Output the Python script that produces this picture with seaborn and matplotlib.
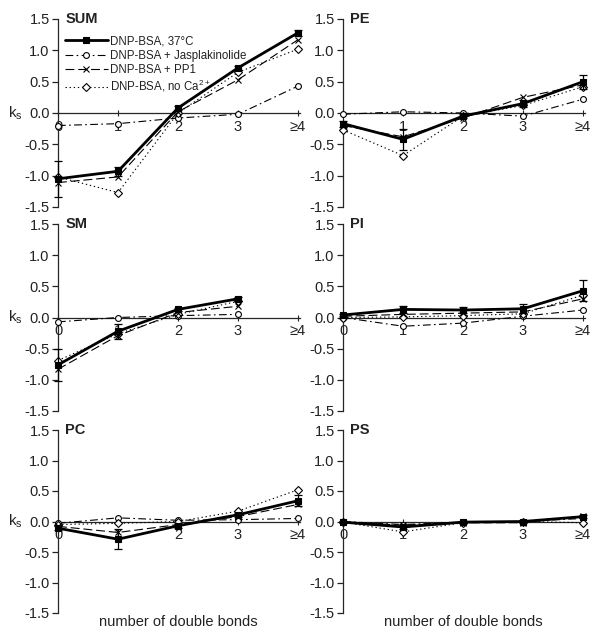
import numpy as np
import pandas as pd
import matplotlib
matplotlib.use("Agg")
import matplotlib.pyplot as plt
import matplotlib.transforms as mtransforms
import seaborn as sns

# x categories (number of double bonds)
bonds = [0, 1, 2, 3, 4]
bond_labels = ["0", "1", "2", "3", "\u22654"]
panels = ["SUM", "PE", "SM", "PI", "PC", "PS"]
series = ["DNP-BSA, 37\u00b0C", "DNP-BSA + Jasplakinolide",
          "DNP-BSA + PP1", "DNP-BSA, no Ca$^{2+}$"]

# k_s values per panel, one list per series (37C, Jasp, PP1, no Ca)
sum_37 = [-1.05, -0.93, 0.08, 0.72, 1.28]
sum_jas = [-0.20, -0.17, -0.08, -0.02, 0.43]
sum_pp1 = [-1.11, -1.02, 0.02, 0.53, 1.17]
sum_noca = [-1.02, -1.27, 0.00, 0.65, 1.02]
sum_err = [0.29, 0.07, 0.03, 0.03, 0.05]

pe_37 = [-0.17, -0.42, -0.05, 0.15, 0.50]
pe_jas = [-0.02, 0.02, 0.00, -0.05, 0.22]
pe_pp1 = [-0.20, -0.38, -0.08, 0.25, 0.45]
pe_noca = [-0.27, -0.68, -0.05, 0.12, 0.42]
pe_err = [0.05, 0.17, 0.03, 0.05, 0.11]

sm_37 = [-0.76, -0.22, 0.13, 0.30, np.nan]
sm_jas = [-0.07, 0.00, 0.03, 0.05, np.nan]
sm_pp1 = [-0.83, -0.29, 0.08, 0.18, np.nan]
sm_noca = [-0.69, -0.26, 0.05, 0.26, np.nan]
sm_err = [0.26, 0.12, 0.03, 0.03, np.nan]

pi_37 = [0.04, 0.13, 0.12, 0.14, 0.43]
pi_jas = [0.00, -0.14, -0.09, 0.02, 0.12]
pi_pp1 = [0.02, 0.05, 0.07, 0.09, 0.30]
pi_noca = [0.00, 0.01, 0.03, 0.06, 0.36]
pi_err = [0.02, 0.06, 0.05, 0.07, 0.17]

pc_37 = [-0.11, -0.29, -0.07, 0.11, 0.34]
pc_jas = [-0.03, 0.06, 0.02, 0.03, 0.05]
pc_pp1 = [-0.08, -0.18, -0.05, 0.08, 0.28]
pc_noca = [-0.05, -0.03, 0.00, 0.17, 0.52]
pc_err = [0.03, 0.16, 0.03, 0.03, 0.09]

ps_37 = [-0.01, -0.09, -0.01, 0.00, 0.08]
ps_jas = [0.00, -0.05, -0.01, 0.00, 0.05]
ps_pp1 = [-0.01, -0.06, -0.02, -0.02, 0.09]
ps_noca = [-0.01, -0.17, -0.02, 0.00, -0.02]
ps_err = [0.02, 0.04, 0.02, 0.02, 0.03]

data = {
    "SUM": (sum_37, sum_jas, sum_pp1, sum_noca, sum_err),
    "PE": (pe_37, pe_jas, pe_pp1, pe_noca, pe_err),
    "SM": (sm_37, sm_jas, sm_pp1, sm_noca, sm_err),
    "PI": (pi_37, pi_jas, pi_pp1, pi_noca, pi_err),
    "PC": (pc_37, pc_jas, pc_pp1, pc_noca, pc_err),
    "PS": (ps_37, ps_jas, ps_pp1, ps_noca, ps_err),
}

sns.set_style("ticks")
plt.rcParams["font.family"] = ["Liberation Sans", "DejaVu Sans"]
plt.rcParams["mathtext.default"] = "regular"
plt.rcParams["text.color"] = "#222222"
plt.rcParams["xtick.color"] = "#222222"
plt.rcParams["ytick.color"] = "#222222"

styles = [
    dict(linestyle="-", linewidth=2.0, marker="s", markersize=4.8, markerfacecolor="black", zorder=5),
    dict(linestyle=(0, (7, 3, 1.5, 3)), linewidth=0.8, marker="o", markersize=4.2, markerfacecolor="white", zorder=3),
    dict(linestyle=(0, (8, 3.5)), linewidth=0.8, marker="x", markersize=5.0, markerfacecolor="none", zorder=4),
    dict(linestyle=(0, (1.2, 2.5)), linewidth=0.8, marker="D", markersize=3.6, markerfacecolor="white", zorder=3),
]

fig = plt.figure(figsize=(6.02, 6.37), dpi=100)
W, H = 602.0, 637.0
lefts = [58, 343]
rows = [(19, 207), (224, 411), (430, 613)]
xmax = 4.03
axw = 240 * xmax / 4

for i, name in enumerate(panels):
    r, c = divmod(i, 2)
    top, bot = rows[r]
    ax = fig.add_axes([lefts[c] / W, 1 - bot / H, axw / W, (bot - top) / H])
    vals = data[name]
    for k in range(4):
        df = pd.DataFrame({"bonds": bonds, "ks": vals[k]})
        sns.lineplot(data=df, x="bonds", y="ks", ax=ax, color="black",
                     markeredgecolor="black", markeredgewidth=0.8,
                     errorbar=None, label=series[k], legend=False,
                     clip_on=False, **styles[k])
    ax.errorbar(bonds, vals[0], yerr=vals[4], fmt="none", ecolor="black",
                elinewidth=0.9, capsize=3, capthick=0.9, zorder=6, clip_on=False)

    ax.set_xlim(0, xmax)
    ax.set_ylim(-1.5, 1.5)
    ax.set_yticks([-1.5, -1.0, -0.5, 0.0, 0.5, 1.0, 1.5])
    ax.set_yticklabels(["-1.5", "-1.0", "-0.5", "0.0", "0.5", "1.0", "1.5"])
    ax.set_xticks(bonds)
    ax.set_xticklabels(bond_labels)
    for s in ["top", "right"]:
        ax.spines[s].set_visible(False)
    ax.spines["bottom"].set_position(("data", 0))
    ax.spines["bottom"].set_linewidth(0.9)
    ax.spines["left"].set_linewidth(0.9)
    ax.tick_params(axis="y", direction="out", length=4, width=0.9, labelsize=10.5, pad=2)
    ax.tick_params(axis="x", direction="inout", length=5, width=0.8, labelsize=10.5, pad=2.5)
    ax.set_xlabel("")
    ax.set_ylabel("")
    ax.text(0.12, 1.5, name, fontsize=10.5, fontweight="bold", va="center", ha="left")
    if c == 0:
        trans = mtransforms.blended_transform_factory(ax.transAxes, ax.transData)
        ax.text(-43 / axw, 0, "k$_s$", transform=trans, fontsize=11, ha="center", va="center")
    if name == "SUM":
        ax.legend(loc="upper left", bbox_to_anchor=(0.0, 0.95), frameon=False,
                  fontsize=8.3, handlelength=3.7, handletextpad=0.25,
                  labelspacing=0.2, borderaxespad=0.2)

fig.text((lefts[0] + 120) / W, 1 - 622 / H, "number of double bonds",
         ha="center", va="center", fontsize=10.5)
fig.text((lefts[1] + 120) / W, 1 - 622 / H, "number of double bonds",
         ha="center", va="center", fontsize=10.5)

fig.savefig("out.png", dpi=100)
